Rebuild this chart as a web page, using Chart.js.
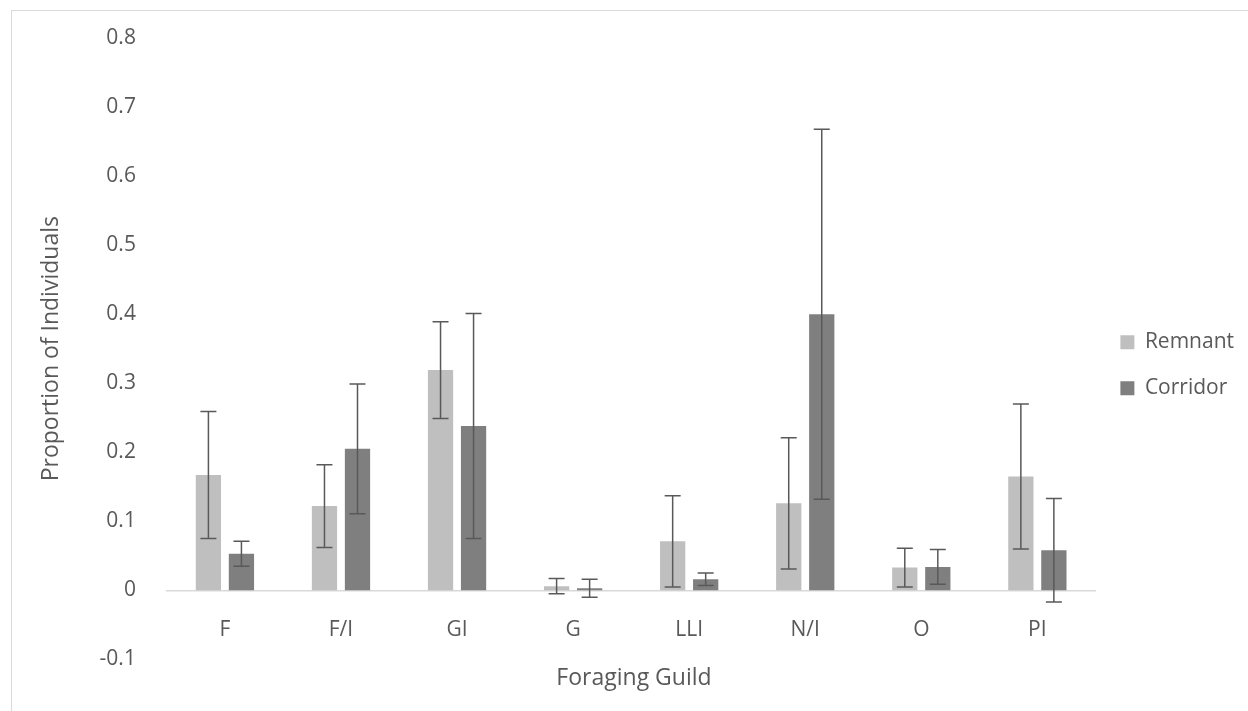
<!DOCTYPE html>
<html>
<head>
<meta charset="utf-8">
<script src="https://cdn.jsdelivr.net/npm/chart.js@4.4.1/dist/chart.umd.min.js"></script>
<style>
    html, body { margin: 0; padding: 0; background: #fff; overflow: hidden; }
    .frame { position: absolute; left: 11px; top: 10px; width: 1400px; height: 900px; border: 1px solid #d9d9d9; }
    .wrap { position: absolute; left: 0; top: 0; width: 1248px; height: 711px; }
</style>
</head>
<body>
<div class="frame"></div>
<div class="wrap"><canvas id="myChart"></canvas></div>
<script>
// foraging guilds on the x axis
const guilds = ['F', 'F/I', 'GI', 'G', 'LLI', 'N/I', 'O', 'PI'];

// mean proportion of individuals and error (+/-) for each habitat
const remnant = [0.167, 0.122, 0.319, 0.006, 0.071, 0.126, 0.033, 0.165];
const remnantErr = [0.092, 0.060, 0.070, 0.011, 0.066, 0.095, 0.028, 0.105];
const corridor = [0.053, 0.205, 0.238, 0.003, 0.016, 0.400, 0.034, 0.058];
const corridorErr = [0.018, 0.094, 0.163, 0.013, 0.009, 0.268, 0.025, 0.075];

// y axis ticks
const yMin = -0.1;
const yMax = 0.8;
const yStep = 0.1;

const textColor = '#595959';
Chart.defaults.font.family = "'Open Sans', sans-serif";
Chart.defaults.color = textColor;

// draws the +/- error bars on top of each bar
const errorBars = {
    id: 'errorBars',
    afterDatasetsDraw(chart) {
        const ctx = chart.ctx;
        const yScale = chart.scales.y;
        ctx.save();
        ctx.strokeStyle = '#595959';
        ctx.lineWidth = 1.5;
        chart.data.datasets.forEach((ds, d) => {
            const meta = chart.getDatasetMeta(d);
            meta.data.forEach((bar, i) => {
                const v = ds.data[i];
                const e = ds.errors[i];
                const top = yScale.getPixelForValue(v + e);
                const bottom = yScale.getPixelForValue(v - e);
                const half = 8;
                ctx.beginPath();
                ctx.moveTo(bar.x, top);
                ctx.lineTo(bar.x, bottom);
                ctx.moveTo(bar.x - half, top);
                ctx.lineTo(bar.x + half, top);
                ctx.moveTo(bar.x - half, bottom);
                ctx.lineTo(bar.x + half, bottom);
                ctx.stroke();
            });
        });
        ctx.restore();
    }
};

const ctx = document.getElementById('myChart').getContext('2d');

const myChart = new Chart(ctx, {
    type: 'bar',
    data: {
        labels: guilds,
        datasets: [
            {
                label: 'Remnant',
                data: remnant,
                errors: remnantErr,
                backgroundColor: '#bfbfbf',
                borderWidth: 0
            },
            {
                label: 'Corridor',
                data: corridor,
                errors: corridorErr,
                backgroundColor: '#7f7f7f',
                borderWidth: 0
            }
        ]
    },
    options: {
        responsive: true,
        maintainAspectRatio: false,
        animation: false,
        categoryPercentage: 0.569,
        barPercentage: 0.765,
        layout: {
            padding: { left: 24, top: 38, right: 4, bottom: 0 }
        },
        scales: {
            x: {
                position: { y: 0 },
                grid: { display: false },
                border: { display: true, color: '#d9d9d9', width: 1.5 },
                ticks: { padding: 19, font: { size: 21 }, color: textColor }
            },
            y: {
                min: yMin,
                max: yMax,
                grid: { display: false },
                border: { display: false },
                ticks: {
                    stepSize: yStep,
                    padding: 23,
                    font: { size: 21 },
                    color: textColor,
                    callback: (v) => String(Math.round(v * 10) / 10)
                },
                title: {
                    display: true,
                    text: 'Proportion of Individuals',
                    font: { size: 23 },
                    color: textColor,
                    padding: { top: 14, bottom: 11 }
                }
            }
        },
        plugins: {
            legend: {
                position: 'right',
                align: 'center',
                fullSize: false,
                title: { display: true, text: '', font: { size: 21 }, padding: 4 },
                labels: {
                    boxWidth: 14,
                    boxHeight: 14,
                    padding: 25,
                    font: { size: 21 },
                    color: textColor
                }
            },
            title: {
                display: true,
                position: 'bottom',
                text: 'Foraging Guild',
                font: { size: 23, weight: 'normal' },
                color: textColor,
                padding: { top: 5, bottom: 19 }
            },
            tooltip: { enabled: false }
        }
    },
    plugins: [errorBars]
});
</script>
</body>
</html>
